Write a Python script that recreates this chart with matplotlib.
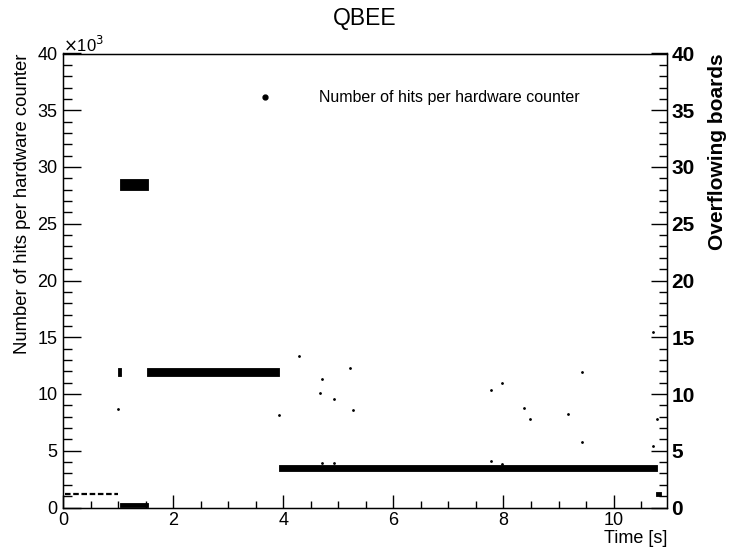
import numpy as np
import matplotlib
matplotlib.use("Agg")
import matplotlib.pyplot as plt
from matplotlib.lines import Line2D
from matplotlib.ticker import MultipleLocator

plt.rcParams['font.family'] = ['Liberation Sans', 'DejaVu Sans']

# dense bands of hits (time in s, hits in units of 1e3)
band_start = [0.99, 1.04, 1.04, 1.53, 3.92, 10.77]
band_end   = [1.05, 1.55, 1.54, 3.93, 10.78, 10.86]
band_low   = [11.57, 27.95, 0.05, 11.62, 3.18, 1.05]
band_high  = [12.33, 28.90, 0.40, 12.25, 3.72, 1.35]

# sparse run of hits at the start
sparse_start = [0.03]
sparse_end   = [1.00]
sparse_level = [1.22]

# isolated points
out_t = [1.00, 3.93, 4.29, 4.66, 4.71, 4.92, 5.22, 5.27, 7.78, 7.98, 8.37, 8.48,
         9.18, 9.42, 9.42, 10.72, 10.71, 10.78, 4.71, 4.92, 7.78, 7.98]
out_k = [8.65, 8.15, 13.36, 10.13, 11.30, 9.56, 12.27, 8.60, 10.36, 10.95, 8.80, 7.80,
         8.24, 11.98, 5.77, 15.50, 5.39, 7.77, 3.90, 3.90, 4.10, 3.85]

T_MAX = 10.97
Y_MAX = 40

fig = plt.figure(figsize=(7.3, 5.52), dpi=100)
ax = fig.add_axes([63/730, 1 - 507.5/552, 604/730, 454/552])

for s, e, lo, hi in zip(band_start, band_end, band_low, band_high):
    ax.fill_between([s, e], [lo, lo], [hi, hi], color='black', lw=0.6)
for s, e, v in zip(sparse_start, sparse_end, sparse_level):
    ax.plot([s, e], [v, v], color='black', lw=1.6, ls=(0, (2.5, 1.2)))
ax.plot(out_t, out_k, ls='none', marker='.', ms=2.0, color='black')

ax.set_xlim(0, T_MAX)
ax.set_ylim(0, Y_MAX)
ax.xaxis.set_major_locator(MultipleLocator(2))
ax.xaxis.set_minor_locator(MultipleLocator(0.5))
ax.yaxis.set_major_locator(MultipleLocator(5))
ax.yaxis.set_minor_locator(MultipleLocator(1))
ax.tick_params(axis='x', which='major', direction='in', length=9.5, width=1, labelsize=13, pad=3, top=False)
ax.tick_params(axis='x', which='minor', direction='in', length=4.7, width=1, top=False)
ax.tick_params(axis='y', which='major', direction='in', length=13, width=1, labelsize=13, pad=4, right=False)
ax.tick_params(axis='y', which='minor', direction='in', length=6.5, width=1, right=False)
for sp in ax.spines.values():
    sp.set_linewidth(1)

ax.set_xlabel('Time [s]', fontsize=13, loc='right')
ax.xaxis.set_label_coords(1.0, -0.05)
ax.set_ylabel('Number of hits per hardware counter', fontsize=13.3, loc='top')
ax.yaxis.set_label_coords(-0.053, 1.0)

ax2 = ax.twinx()
ax2.set_ylim(0, Y_MAX)
ax2.yaxis.set_major_locator(MultipleLocator(5))
ax2.yaxis.set_minor_locator(MultipleLocator(1))
ax2.tick_params(axis='y', which='major', direction='in', length=11.5, width=1, labelsize=15, pad=3)
ax2.tick_params(axis='y', which='minor', direction='in', length=5.8, width=1)
for lab in ax2.get_yticklabels():
    lab.set_fontweight('bold')
ax2.set_ylabel('Overflowing boards', fontsize=15, fontweight='bold', loc='top')
ax2.yaxis.set_label_coords(1.068, 1.0)

fig.text(365/730, 1 - 18/552, 'QBEE', ha='center', va='center', fontsize=16.5)
fig.text(63/730, 1 - 52/552, r'$\times$10$^{3}$', ha='left', va='baseline', fontsize=12)

handle = Line2D([], [], ls='none', marker='o', ms=3.5, color='black')
ax.legend([handle], ['Number of hits per hardware counter'], loc='center left',
          bbox_to_anchor=(0.282, 0.902), frameon=False, fontsize=11.5,
          handlelength=4, handletextpad=1.37, borderpad=0, borderaxespad=0)

fig.savefig('out.png', dpi=100)
